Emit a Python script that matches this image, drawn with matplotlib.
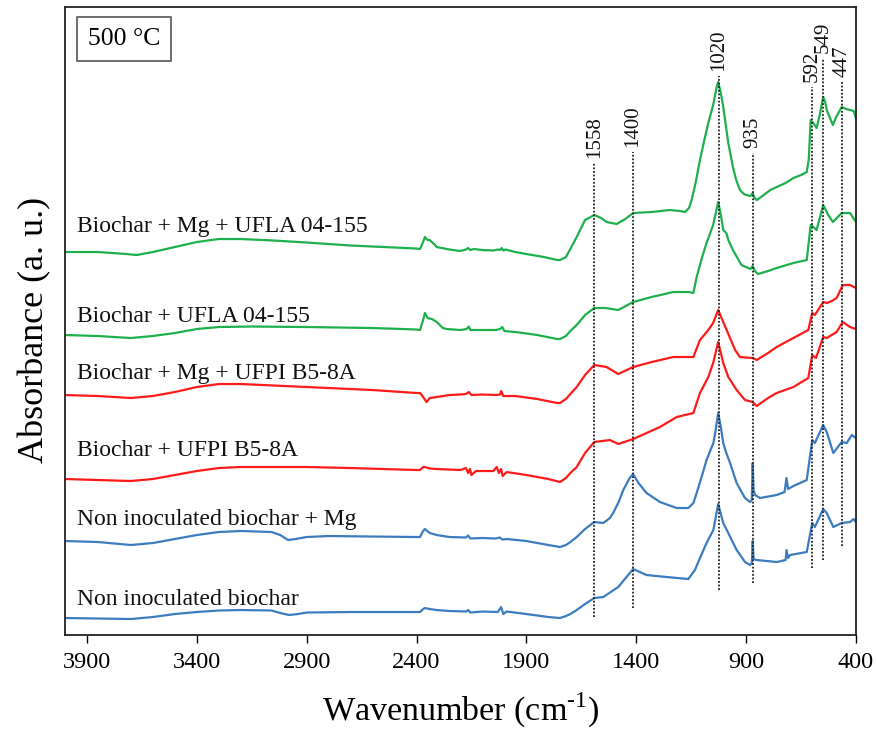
import numpy as np
import matplotlib
matplotlib.use("Agg")
import matplotlib.pyplot as plt

plt.rcParams['font.family'] = ['Liberation Serif', 'DejaVu Serif']
plt.rcParams['mathtext.fontset'] = 'custom'
plt.rcParams['mathtext.rm'] = 'Liberation Serif'

# spectra (wavenumber, absorbance a.u. with offsets)
g1_wn = [4000, 3850, 3720, 3674, 3600, 3500, 3400, 3300, 3200, 3050, 2900, 2700, 2500, 2400, 2384, 2370, 2362,
         2350, 2340, 2320, 2308, 2250, 2202, 2175, 2165, 2155, 2140, 2100, 2050, 2030, 2020, 2012, 2005, 1995,
         1950, 1900, 1820, 1760, 1747, 1720, 1700, 1671, 1633, 1591, 1560, 1535, 1489, 1450, 1414, 1330, 1247,
         1200, 1178, 1160, 1148, 1130, 1110, 1090, 1072, 1050, 1034, 1027, 1015, 1004, 981, 960, 945, 928, 910,
         898, 880, 870, 862, 851, 820, 790, 761, 720, 685, 650, 624, 615, 606, 600, 594, 579, 565, 549, 540,
         533, 505, 490, 465, 445, 427, 410, 400]
g1_ab = [3.83, 3.83, 3.81, 3.80, 3.83, 3.88, 3.93, 3.96, 3.96, 3.945, 3.925, 3.895, 3.875, 3.865, 3.86, 3.93, 3.98,
         3.95, 3.95, 3.91, 3.88, 3.855, 3.84, 3.855, 3.87, 3.85, 3.86, 3.85, 3.845, 3.855, 3.85, 3.87, 3.845, 3.855,
         3.83, 3.81, 3.78, 3.75, 3.75, 3.78, 3.86, 3.98, 4.15, 4.20, 4.17, 4.13, 4.11, 4.16, 4.22, 4.23, 4.25,
         4.24, 4.23, 4.27, 4.35, 4.52, 4.75, 4.95, 5.12, 5.30, 5.48, 5.53, 5.42, 5.28, 4.92, 4.68, 4.55, 4.45, 4.41,
         4.40, 4.39, 4.42, 4.37, 4.35, 4.40, 4.45, 4.48, 4.52, 4.57, 4.60, 4.63, 4.75, 5.15, 5.13, 5.12, 5.07, 5.20,
         5.38, 5.33, 5.25, 5.10, 5.18, 5.28, 5.26, 5.25, 5.24, 5.17]

g2_wn = [4000, 3850, 3700, 3600, 3500, 3400, 3300, 3150, 2900, 2600, 2400, 2384, 2370, 2362, 2350, 2330, 2308,
         2280, 2263, 2200, 2172, 2162, 2155, 2100, 2040, 2020, 2010, 2000, 1950, 1850, 1760, 1747, 1720, 1700,
         1671, 1633, 1591, 1540, 1482, 1414, 1330, 1232, 1160, 1140, 1125, 1100, 1080, 1050, 1027, 1015, 1004,
         990, 981, 960, 921, 880, 870, 860, 846, 800, 761, 685, 624, 606, 594, 579, 549, 526, 505, 465, 427, 400]
g2_ab = [3.00, 2.99, 2.97, 2.99, 3.02, 3.06, 3.08, 3.085, 3.08, 3.07, 3.055, 3.05, 3.15, 3.22, 3.17, 3.16, 3.13,
         3.07, 3.06, 3.05, 3.06, 3.085, 3.05, 3.05, 3.05, 3.06, 3.08, 3.04, 3.03, 3.00, 2.96, 2.96, 2.99, 3.04,
         3.10, 3.20, 3.27, 3.27, 3.25, 3.33, 3.38, 3.43, 3.43, 3.42, 3.58, 3.78, 3.92, 4.10, 4.33, 4.20, 4.05,
         4.02, 3.95, 3.85, 3.70, 3.66, 3.69, 3.64, 3.61, 3.64, 3.67, 3.72, 3.75, 4.10, 4.08, 4.05, 4.30, 4.20, 4.13,
         4.22, 4.22, 4.13]

r1_wn = [4000, 3850, 3700, 3600, 3500, 3400, 3300, 3200, 3000, 2800, 2600, 2400, 2384, 2370, 2354, 2340, 2308,
         2250, 2200, 2175, 2162, 2150, 2100, 2040, 2020, 2015, 2005, 1950, 1850, 1760, 1747, 1720, 1700, 1671,
         1633, 1591, 1535, 1482, 1414, 1330, 1232, 1140, 1110, 1072, 1050, 1027, 1004, 973, 950, 928, 870, 852,
         800, 761, 685, 617, 599, 587, 549, 533, 510, 488, 460, 427, 400]
r1_ab = [2.40, 2.39, 2.37, 2.39, 2.43, 2.48, 2.51, 2.51, 2.49, 2.47, 2.45, 2.42, 2.42, 2.38, 2.33, 2.37, 2.38,
         2.40, 2.405, 2.41, 2.43, 2.40, 2.405, 2.40, 2.405, 2.44, 2.39, 2.39, 2.36, 2.32, 2.32, 2.36, 2.41, 2.48,
         2.60, 2.70, 2.68, 2.61, 2.68, 2.73, 2.78, 2.78, 2.95, 3.05, 3.12, 3.25, 3.13, 2.97, 2.85, 2.78, 2.77, 2.75,
         2.82, 2.88, 2.97, 3.05, 3.22, 3.20, 3.33, 3.32, 3.34, 3.37, 3.50, 3.50, 3.47]

r2_wn = [4000, 3850, 3700, 3600, 3500, 3400, 3300, 3200, 2900, 2700, 2400, 2384, 2370, 2362, 2340, 2308, 2250,
         2200, 2175, 2165, 2157, 2150, 2130, 2050, 2035, 2025, 2015, 2008, 1990, 1900, 1800, 1747, 1720, 1700,
         1671, 1633, 1591, 1520, 1482, 1414, 1292, 1216, 1140, 1110, 1072, 1050, 1027, 1004, 981, 943, 905, 870,
         852, 800, 761, 685, 617, 599, 582, 549, 533, 488, 460, 427, 400]
r2_ab = [1.56, 1.55, 1.54, 1.56, 1.60, 1.64, 1.67, 1.68, 1.68, 1.67, 1.65, 1.65, 1.68, 1.68, 1.665, 1.66, 1.655,
         1.65, 1.67, 1.62, 1.66, 1.60, 1.64, 1.64, 1.68, 1.62, 1.66, 1.59, 1.63, 1.60, 1.56, 1.53, 1.57, 1.62,
         1.68, 1.82, 1.93, 1.95, 1.91, 1.96, 2.08, 2.18, 2.22, 2.42, 2.58, 2.72, 2.93, 2.72, 2.58, 2.45, 2.35, 2.33,
         2.29, 2.37, 2.42, 2.48, 2.57, 2.80, 2.77, 2.98, 2.97, 3.03, 3.13, 3.08, 3.06]

b1_wn = [4000, 3850, 3700, 3600, 3500, 3400, 3300, 3200, 3060, 3020, 2985, 2950, 2900, 2800, 2600, 2400, 2384,
         2370, 2362, 2340, 2308, 2250, 2175, 2165, 2155, 2100, 2040, 2020, 2010, 1988, 1900, 1800, 1747, 1720,
         1700, 1671, 1633, 1591, 1550, 1520, 1505, 1480, 1459, 1430, 1414, 1390, 1353, 1292, 1216, 1163, 1140,
         1125, 1100, 1080, 1060, 1049, 1040, 1027, 1015, 1004, 990, 973, 943, 905, 882, 874, 870, 866, 859, 837,
         761, 725, 716, 709, 685, 624, 599, 587, 549, 533, 503, 465, 442, 419, 400]
b1_ab = [0.94, 0.93, 0.90, 0.92, 0.96, 1.00, 1.03, 1.04, 1.03, 1.00, 0.95, 0.96, 0.98, 0.99, 0.985, 0.98, 0.98,
         1.04, 1.06, 1.02, 1.00, 0.98, 0.975, 0.995, 0.965, 0.97, 0.965, 0.975, 0.955, 0.96, 0.94, 0.90, 0.88, 0.90,
         0.93, 0.98, 1.06, 1.13, 1.12, 1.17, 1.22, 1.33, 1.45, 1.57, 1.61, 1.52, 1.42, 1.33, 1.27, 1.27, 1.32,
         1.42, 1.60, 1.75, 1.86, 1.92, 2.03, 2.22, 2.08, 1.92, 1.82, 1.72, 1.52, 1.37, 1.33, 1.35, 1.72, 1.45, 1.40,
         1.37, 1.40, 1.43, 1.57, 1.46, 1.49, 1.55, 1.95, 1.92, 2.10, 2.03, 1.82, 1.93, 1.92, 2.00, 1.97]

b2_wn = [4000, 3850, 3700, 3600, 3500, 3400, 3300, 3200, 3060, 3020, 2980, 2940, 2900, 2700, 2400, 2384, 2370,
         2362, 2340, 2308, 2250, 2175, 2165, 2155, 2100, 2030, 2015, 2005, 1990, 1900, 1800, 1747, 1720, 1700,
         1671, 1633, 1591, 1550, 1482, 1414, 1353, 1262, 1163, 1133, 1110, 1080, 1049, 1027, 1004, 981, 943, 905,
         882, 874, 870, 866, 852, 761, 720, 716, 709, 700, 624, 599, 587, 549, 533, 503, 465, 427, 411, 400]
b2_ab = [0.17, 0.165, 0.16, 0.18, 0.21, 0.23, 0.245, 0.25, 0.245, 0.22, 0.20, 0.21, 0.225, 0.23, 0.23, 0.23, 0.26,
         0.27, 0.26, 0.25, 0.24, 0.235, 0.25, 0.225, 0.235, 0.23, 0.28, 0.21, 0.235, 0.21, 0.18, 0.17, 0.19, 0.21,
         0.25, 0.31, 0.37, 0.38, 0.48, 0.66, 0.60, 0.58, 0.56, 0.65, 0.77, 0.92, 1.05, 1.31, 1.12, 1.02, 0.85, 0.73,
         0.70, 0.72, 0.94, 0.76, 0.75, 0.73, 0.75, 0.85, 0.77, 0.80, 0.83, 1.12, 1.08, 1.26, 1.22, 1.08, 1.12, 1.13,
         1.16, 1.13]

green = '#1db04c'
red = '#ff1a1a'
blue = '#3b7cc0'

series = [(g1_wn, g1_ab, green), (g2_wn, g2_ab, green), (r1_wn, r1_ab, red),
          (r2_wn, r2_ab, red), (b1_wn, b1_ab, blue), (b2_wn, b2_ab, blue)]

names = ["Biochar + Mg + UFLA 04-155", "Biochar + UFLA 04-155", "Biochar + Mg + UFPI B5-8A",
         "Biochar + UFPI B5-8A", "Non inoculated biochar + Mg", "Non inoculated biochar"]
name_y = [4.03, 3.13, 2.56, 1.79, 1.10, 0.30]

# marked bands: label, drawn position, top and bottom of the dotted line
peak_labels = ["1558", "1400", "1020", "935", "592", "549", "447"]
peak_pos = [1591, 1414, 1024, 870, 599, 549, 465]
peak_top = [4.72, 4.83, 5.59, 4.82, 5.48, 5.77, 5.53]
peak_bot = [0.18, 0.27, 0.45, 0.52, 0.67, 0.75, 0.89]

fig = plt.figure(figsize=(8.77, 7.31), dpi=100)
ax = fig.add_axes([0.0741, 0.1313, 0.9019, 0.8591])

for wn, ab, c in series:
    ax.plot(wn, ab, color=c, lw=1.6, solid_joinstyle='round')

for lab, y in zip(names, name_y):
    ax.text(3947, y, lab, fontsize=17, va='baseline', ha='left', color='#111111')

for lab, p, t, b in zip(peak_labels, peak_pos, peak_top, peak_bot):
    ax.plot([p, p], [b, t], color='#222222', lw=1.3, ls=(0, (1, 1)))
    ax.text(p, t + 0.05, lab, rotation=90, fontsize=15, ha='center', va='bottom', color='#111111')

ax.text(0.0746, 0.949, "500 °C", transform=ax.transAxes, fontsize=18.5, ha='center', va='center',
        bbox=dict(boxstyle='square,pad=0.42', fc='white', ec='#555555', lw=1.2))

ax.set_xlim(4000, 400)
ax.set_ylim(0, 6.28)
ax.set_xticks([3900, 3400, 2900, 2400, 1900, 1400, 900, 400])
ax.set_yticks([])
ax.tick_params(axis='x', direction='out', length=6, width=1, labelsize=17.5, pad=6)
for s in ax.spines.values():
    s.set_linewidth(1.3)
    s.set_color('#222222')

ax.set_xlabel(r"Wavenumber (cm$^{\text{-1}}$)", fontsize=24.5, labelpad=13)
ax.set_ylabel("Absorbance (a. u.)", fontsize=26)
ax.yaxis.set_label_coords(-0.017, 0.486)

fig.savefig("out.png", dpi=100)
